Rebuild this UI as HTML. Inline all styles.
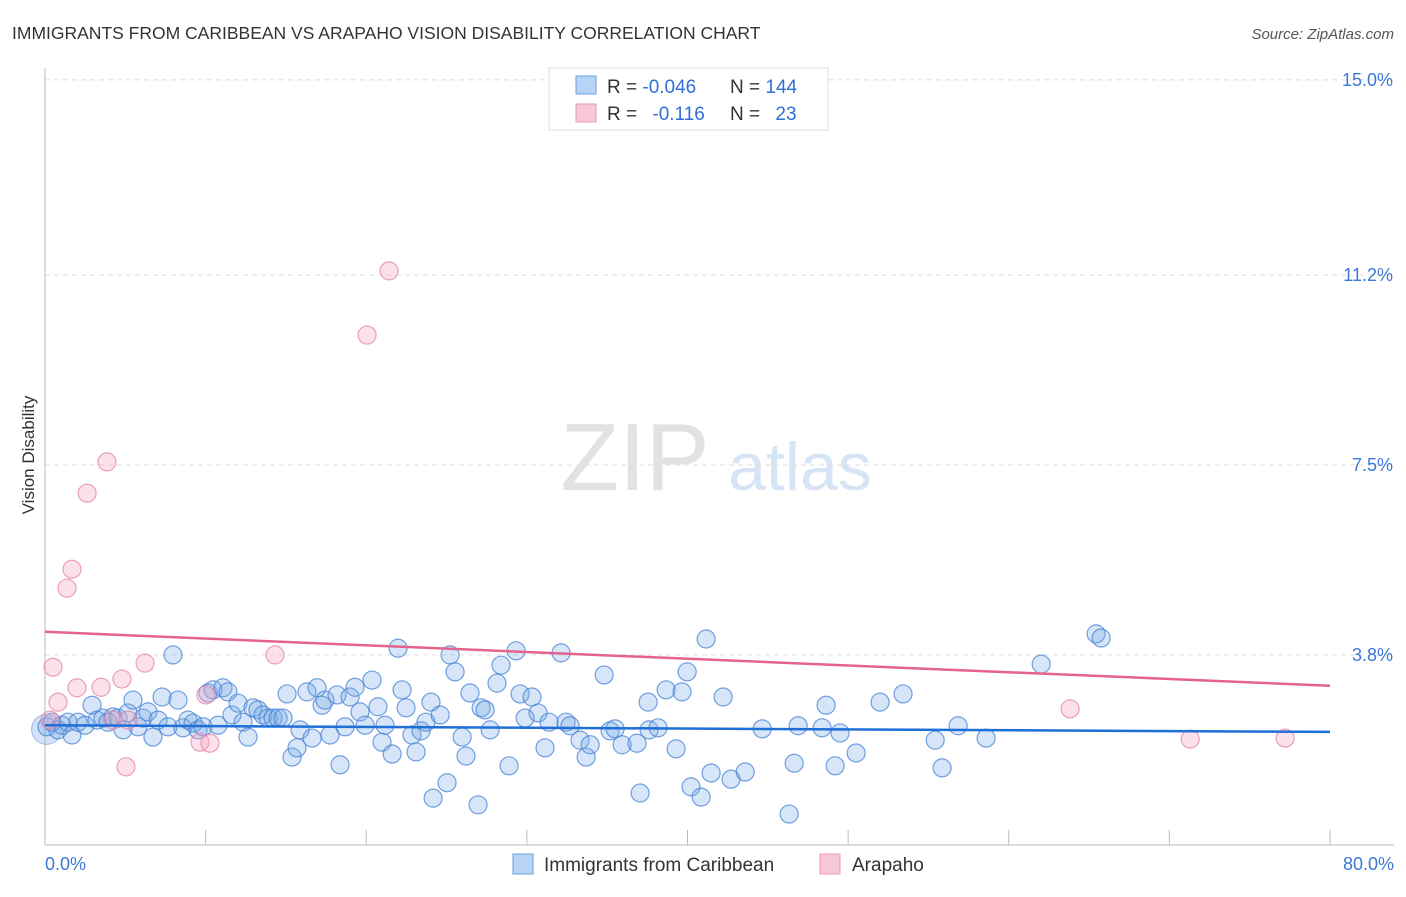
<!DOCTYPE html>
<html><head><meta charset="utf-8"><style>
body{margin:0;background:#fff;font-family:"Liberation Sans",sans-serif;}
svg text{font-family:"Liberation Sans",sans-serif;}
</style></head><body>
<svg id="c" width="1406" height="892" xmlns="http://www.w3.org/2000/svg">
<text x="12" y="39" font-size="17.5" fill="#333">IMMIGRANTS FROM CARIBBEAN VS ARAPAHO VISION DISABILITY CORRELATION CHART</text>
<text x="1394" y="39" font-size="15" fill="#555" font-style="italic" text-anchor="end">Source: ZipAtlas.com</text>
<g>
<text x="635" y="490" font-size="96" font-family="Liberation Serif" fill="#e2e2e2" text-anchor="middle">ZIP</text>
<text x="800" y="490" font-size="68" fill="#d6e4f5" text-anchor="middle">atlas</text>
</g>
<g id="grid"></g>
<g id="axes"></g>
<text transform="translate(34,455) rotate(-90)" font-size="17" fill="#333" text-anchor="middle">Vision Disability</text>
<g id="marks"></g>
<g>
<rect x="549" y="68" width="279" height="62" fill="#fff" stroke="#ddd"/>
<rect x="576" y="76" width="20" height="18" fill="#b7d3f5" stroke="#6aa0e0"/>
<rect x="576" y="104" width="20" height="18" fill="#f8c8d6" stroke="#e898b0"/>
<text x="607" y="93" font-size="19" fill="#333">R = <tspan fill="#2f6fd6">-0.046</tspan></text>
<text x="730" y="93" font-size="19" fill="#333">N = <tspan fill="#2f6fd6">144</tspan></text>
<text x="607" y="120" font-size="19" fill="#333">R = <tspan fill="#2f6fd6" dx="10">-0.116</tspan></text>
<text x="730" y="120" font-size="19" fill="#333">N = <tspan fill="#2f6fd6" dx="10">23</tspan></text>
</g>
<g>
<rect x="513" y="854" width="20" height="20" fill="#b7d3f5" stroke="#6aa0e0"/>
<text x="544" y="871" font-size="19" fill="#333">Immigrants from Caribbean</text>
<rect x="820" y="854" width="20" height="20" fill="#f8c8d6" stroke="#e898b0"/>
<text x="852" y="871" font-size="19" fill="#333">Arapaho</text>
</g>
</svg>
<script>
const blueX=[0.12,0.44,0.81,1.06,1.43,1.68,2.05,2.49,2.93,3.24,3.61,3.92,4.23,4.55,4.86,5.17,5.48,5.79,6.10,6.41,6.72,7.04,7.29,7.66,7.97,8.28,8.59,8.90,9.22,9.53,9.84,10.15,10.46,10.77,11.08,11.39,11.64,12.02,12.33,12.64,12.95,13.26,13.57,13.89,14.20,14.51,14.82,15.07,15.38,15.69,15.88,16.31,16.63,16.94,17.25,17.43,17.75,18.18,18.37,18.68,18.99,19.30,19.61,19.93,20.36,20.73,20.98,21.17,21.61,21.98,22.23,22.48,22.85,23.10,23.41,23.72,24.03,24.16,24.60,25.03,25.22,25.53,25.97,26.21,26.46,26.96,27.15,27.40,27.71,28.14,28.39,28.89,29.33,29.58,29.89,30.32,30.70,31.13,31.38,32.13,32.44,32.69,33.31,33.69,33.94,34.81,35.18,35.49,35.93,36.86,37.05,37.55,37.61,38.17,38.67,39.29,39.66,39.98,40.22,40.85,41.16,41.47,42.22,42.71,43.59,44.65,46.33,46.64,46.89,48.38,48.63,49.19,49.50,50.50,51.99,53.42,55.42,55.85,56.85,58.59,62.02,65.44,65.75];
const blueY=[2.40,2.49,2.34,2.43,2.49,2.24,2.49,2.43,2.82,2.53,2.57,2.49,2.59,2.57,2.34,2.67,2.92,2.40,2.57,2.69,2.20,2.53,2.98,2.40,3.80,2.92,2.38,2.53,2.47,2.34,2.40,3.06,3.12,2.43,3.16,3.08,2.63,2.86,2.49,2.20,2.77,2.73,2.63,2.57,2.57,2.57,2.57,3.04,1.81,1.99,2.34,3.08,2.18,3.16,2.82,2.92,2.24,3.02,1.66,2.40,2.98,3.17,2.69,2.43,3.31,2.79,2.10,2.43,1.87,3.93,3.12,2.77,2.24,1.91,2.32,2.49,2.88,1.01,2.63,1.31,3.80,3.47,2.20,1.83,3.06,0.88,2.77,2.73,2.34,3.25,3.60,1.64,3.88,3.04,2.57,2.98,2.67,1.99,2.49,3.84,2.49,2.42,2.14,1.81,2.05,3.41,2.32,2.36,2.05,2.08,1.11,2.88,2.34,2.38,3.12,1.97,3.08,3.47,1.23,1.03,4.11,1.50,2.98,1.38,1.52,2.36,0.70,1.69,2.42,2.38,2.82,1.64,2.28,1.89,2.88,3.04,2.14,1.60,2.42,2.18,3.62,4.21,4.13];
const pinkX=[0.50,0.81,1.37,1.68,1.99,2.62,3.49,3.86,4.23,4.79,5.04,6.23,9.65,10.02,10.27,14.32,20.05,21.42,63.82,71.30,77.21,0.31,5.17];
const pinkY=[3.56,2.88,5.10,5.47,3.16,6.95,3.17,7.56,2.53,3.33,1.62,3.64,2.10,3.02,2.08,3.80,10.03,11.28,2.75,2.16,2.18,2.53,2.53];
const blueTrend=[2.43,2.30];
const pinkTrend=[4.25,3.20];
const yTicks=[3.8,7.5,11.2,15.0];
const yTickLabels=["3.8%","7.5%","11.2%","15.0%"];
const xTicks=[0,10,20,30,40,50,60,70,80];
const xEnds=["0.0%","80.0%"];
const X0=45,X1=1330,Y0=850,PPY=51.34;
const sx=v=>X0+(X1-X0)*v/80, sy=v=>Y0-v*PPY;
const NS="http://www.w3.org/2000/svg";
function mk(tag,attrs,parent){const e=document.createElementNS(NS,tag);for(const k in attrs)e.setAttribute(k,attrs[k]);parent.appendChild(e);return e;}
const grid=document.getElementById('grid'),axes=document.getElementById('axes'),marks=document.getElementById('marks');
yTicks.forEach((t,i)=>{
 const l=mk('line',{x1:45,x2:1394,y1:sy(t),y2:sy(t),stroke:'#ddd','stroke-dasharray':'5,4'},grid);
 
 
 const tx=mk('text',{x:1393,y:sy(t)+6,'font-size':18,fill:'#3b78d8','text-anchor':'end'},axes);
 tx.textContent=yTickLabels[i];
 
 
});
const ya=mk('line',{x1:45,x2:45,y1:68,y2:845,stroke:'#bbb'},axes);


const xa=mk('line',{x1:45,x2:1394,y1:845,y2:845,stroke:'#bbb'},axes);


for(let v=0;v<=80;v+=10){const t=mk('line',{x1:sx(v),x2:sx(v),y1:830,y2:845,stroke:'#bbb'},axes);
 
 }
const xl=mk('text',{x:45,y:870,'font-size':18,fill:'#3b78d8'},axes);xl.textContent=xEnds[0];


const xr=mk('text',{x:1394,y:870,'font-size':18,fill:'#3b78d8','text-anchor':'end'},axes);xr.textContent=xEnds[1];


const big=mk('circle',{cx:sx(0.1),cy:sy(2.35),r:15,fill:'rgba(110,160,225,0.3)',stroke:'rgba(70,130,215,0.5)'},marks);


blueX.forEach((x,i)=>{const c=mk('circle',{cx:sx(x),cy:sy(blueY[i]),r:9,fill:'rgba(120,170,230,0.3)',stroke:'rgba(70,130,215,0.75)','stroke-width':1.2},marks);
 
 });
pinkX.forEach((x,i)=>{const c=mk('circle',{cx:sx(x),cy:sy(pinkY[i]),r:9,fill:'rgba(245,170,195,0.35)',stroke:'rgba(230,130,165,0.75)','stroke-width':1.2},marks);
 
 });
const bt=mk('line',{x1:sx(0),x2:sx(80),y1:sy(blueTrend[0]),y2:sy(blueTrend[1]),stroke:'#1f6fd6','stroke-width':2.5},marks);


const pt=mk('line',{x1:sx(0),x2:sx(80),y1:sy(pinkTrend[0]),y2:sy(pinkTrend[1]),stroke:'#e4628c','stroke-width':2.5},marks);


</script>
</body></html>
